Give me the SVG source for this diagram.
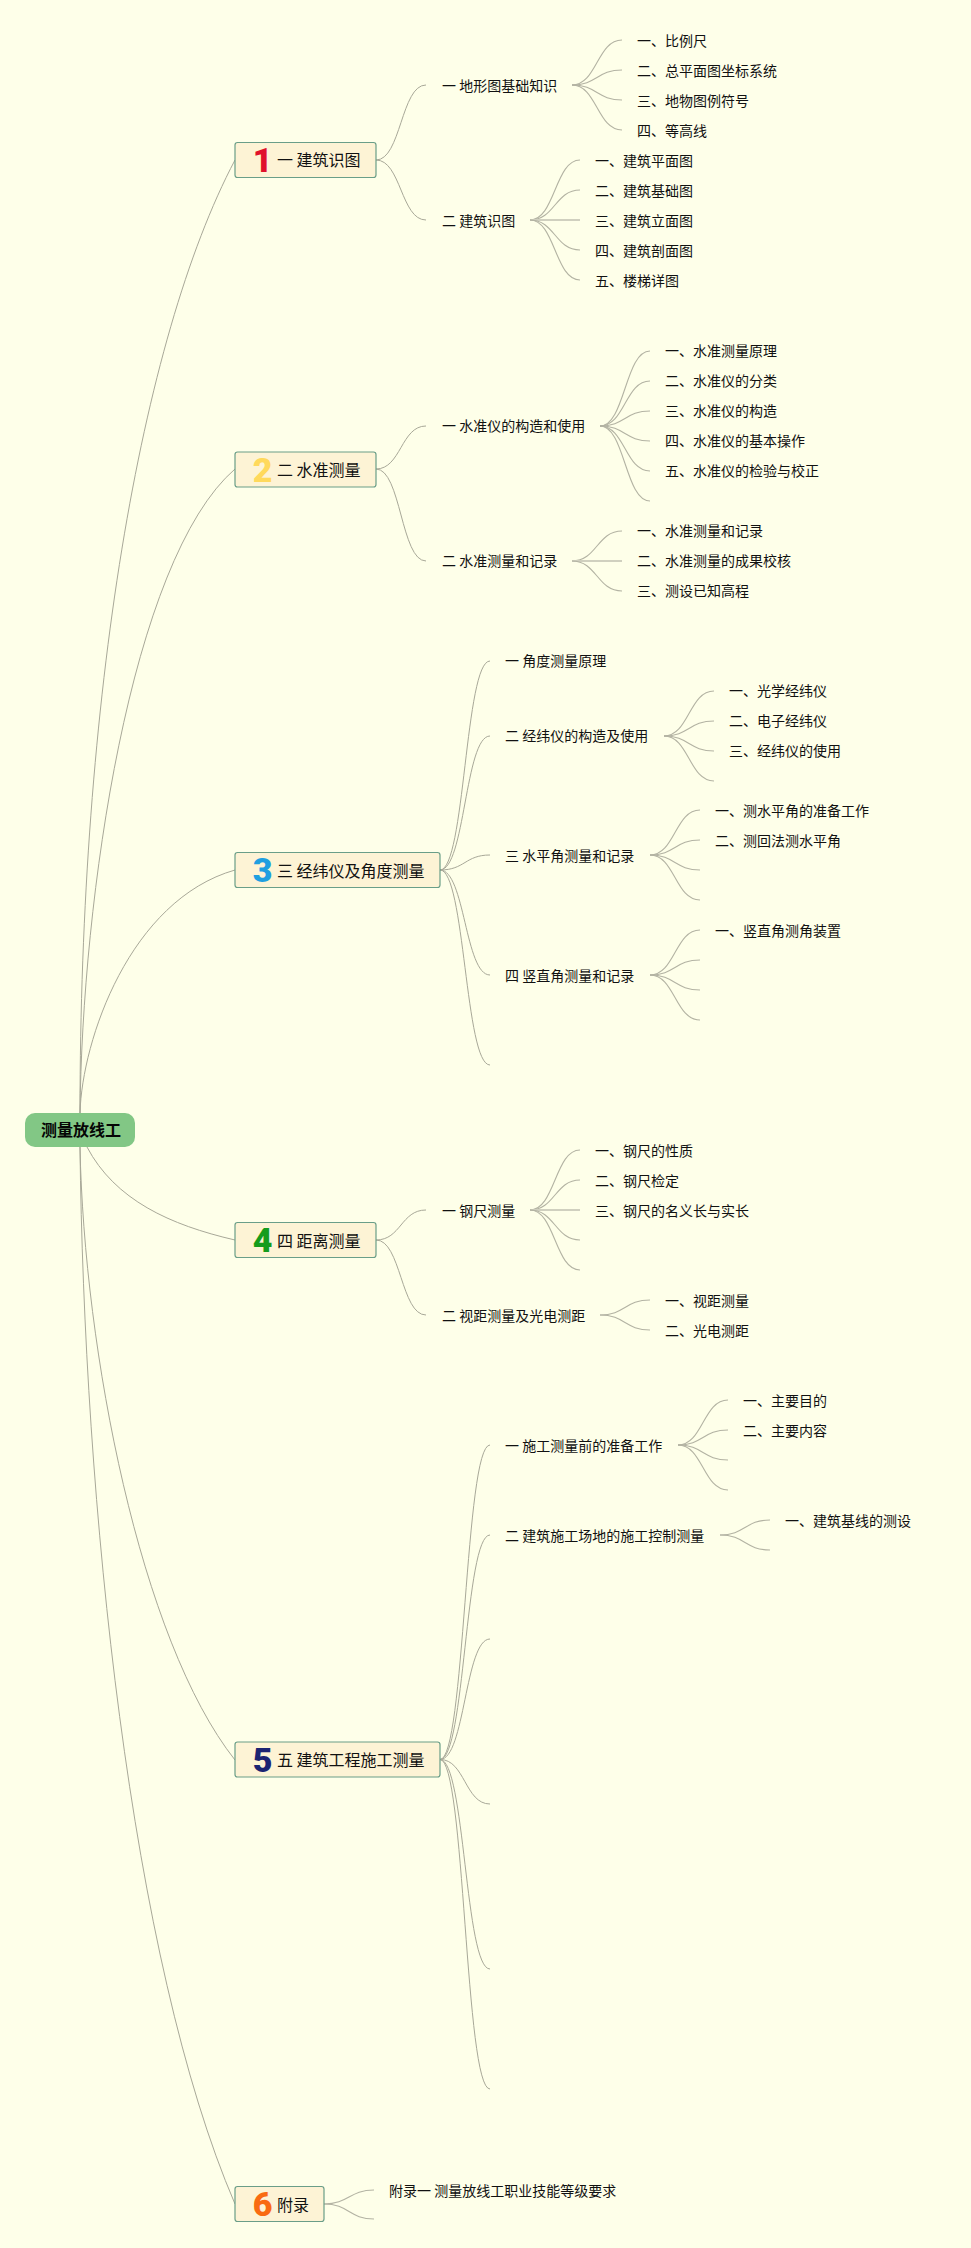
<svg xmlns="http://www.w3.org/2000/svg" width="971" height="2248" viewBox="0 0 971 2248">
<style>
text{font-family:"Noto Sans CJK SC","Liberation Sans",sans-serif;fill:#111}
.t{font-size:14px}
.m{font-size:16px}
.r{font-size:16px;font-weight:700;fill:#050505}
.box{fill:#fdf3d5;stroke:#6a9e88;stroke-width:1.2}
.rootbox{fill:#82c785}
.n{font-family:"Roboto","Liberation Sans",sans-serif;font-size:34px;font-weight:900;text-anchor:middle}
#c path{fill:none;stroke:#a8a898;stroke-width:1}
#c .f{stroke:#b3b3a3;stroke-width:1.1}
#c .s{stroke:#d0d0bf;stroke-width:2}
</style>
<rect width="971" height="2248" fill="#feffe9"/>
<g id="c">
<path d="M80,1113C80,700 140,340 235,160"/>
<path d="M80,1113C82,900 130,560 235,469"/>
<path d="M80,1113C82,1040 130,900 235,870"/>
<path d="M87,1147C115,1200 170,1225 235,1240"/>
<path d="M80,1147C84,1350 140,1640 235,1760"/>
<path d="M80,1147C84,1500 130,1960 235,2204"/>
<path d="M376,160C401,160 401,85 426,85"/><path d="M376,160C401,160 401,220 426,220"/>
<path d="M376,469C401,469 401,426 426,426"/><path d="M376,469C401,469 401,561 426,561"/>
<path d="M440,870C465,870 465,661 490,661"/><path d="M440,870C465,870 465,736 490,736"/><path d="M440,870C465,870 465,855 490,855"/><path d="M440,870C465,870 465,975 490,975"/><path d="M440,870C465,870 465,1065 490,1065"/>
<path d="M376,1240C401,1240 401,1210 426,1210"/><path d="M376,1240C401,1240 401,1315 426,1315"/>
<path d="M440,1759.500C465,1759.500 465,1445 490,1445"/><path d="M440,1759.500C465,1759.500 465,1535 490,1535"/><path d="M440,1759.500C465,1759.500 465,1639 490,1639"/><path d="M440,1759.500C465,1759.500 465,1804 490,1804"/><path d="M440,1759.500C465,1759.500 465,1969 490,1969"/><path d="M440,1759.500C465,1759.500 465,2089 490,2089"/>
<path class="f" d="M324,2204C349,2204 349,2190 374,2190"/><path class="f" d="M324,2204C349,2204 349,2219 374,2219"/>
<path class="f" d="M572,85C597,85 597,40 622,40"/><path class="f" d="M572,85C597,85 597,70 622,70"/><path class="f" d="M572,85C597,85 597,100 622,100"/><path class="f" d="M572,85C597,85 597,130 622,130"/>
<path class="f" d="M530,220C555,220 555,160 580,160"/><path class="f" d="M530,220C555,220 555,190 580,190"/><path class="s" d="M530,220L580,220"/><path class="f" d="M530,220C555,220 555,250 580,250"/><path class="f" d="M530,220C555,220 555,280 580,280"/>
<path class="f" d="M600,426C625,426 625,351 650,351"/><path class="f" d="M600,426C625,426 625,381 650,381"/><path class="f" d="M600,426C625,426 625,411 650,411"/><path class="f" d="M600,426C625,426 625,441 650,441"/><path class="f" d="M600,426C625,426 625,471 650,471"/><path class="f" d="M600,426C625,426 625,501 650,501"/>
<path class="f" d="M572,561C597,561 597,531 622,531"/><path class="s" d="M572,561L622,561"/><path class="f" d="M572,561C597,561 597,591 622,591"/>
<path class="f" d="M664,736C689,736 689,691 714,691"/><path class="f" d="M664,736C689,736 689,721 714,721"/><path class="f" d="M664,736C689,736 689,751 714,751"/><path class="f" d="M664,736C689,736 689,781 714,781"/>
<path class="f" d="M650,855C675,855 675,810 700,810"/><path class="f" d="M650,855C675,855 675,840 700,840"/><path class="f" d="M650,855C675,855 675,870 700,870"/><path class="f" d="M650,855C675,855 675,900 700,900"/>
<path class="f" d="M650,975C675,975 675,930 700,930"/><path class="f" d="M650,975C675,975 675,960 700,960"/><path class="f" d="M650,975C675,975 675,990 700,990"/><path class="f" d="M650,975C675,975 675,1020 700,1020"/>
<path class="f" d="M530,1210C555,1210 555,1150 580,1150"/><path class="f" d="M530,1210C555,1210 555,1180 580,1180"/><path class="s" d="M530,1210L580,1210"/><path class="f" d="M530,1210C555,1210 555,1240 580,1240"/><path class="f" d="M530,1210C555,1210 555,1270 580,1270"/>
<path class="f" d="M600,1315C625,1315 625,1300 650,1300"/><path class="f" d="M600,1315C625,1315 625,1330 650,1330"/>
<path class="f" d="M678,1445C703,1445 703,1400 728,1400"/><path class="f" d="M678,1445C703,1445 703,1430 728,1430"/><path class="f" d="M678,1445C703,1445 703,1460 728,1460"/><path class="f" d="M678,1445C703,1445 703,1490 728,1490"/>
<path class="f" d="M720,1535C745,1535 745,1520 770,1520"/><path class="f" d="M720,1535C745,1535 745,1550 770,1550"/>
</g>
<g id="root"><rect class="rootbox" x="25" y="1113" width="110" height="34" rx="10"/><text class="r" x="41" y="1136">测量放线工</text></g>
<g id="n1"><rect class="box" x="235" y="142.500" width="141" height="35" rx="2.500"/><text class="n" x="262.500" y="172" style="fill:#e0112b">1</text><text class="m" x="277" y="166">一 建筑识图</text></g>
<g id="n2"><rect class="box" x="235" y="452" width="141" height="35" rx="2.500"/><text class="n" x="262.500" y="481.500" style="fill:#ffd95c">2</text><text class="m" x="277" y="476">二 水准测量</text></g>
<g id="n3"><rect class="box" x="235" y="852.500" width="205" height="35" rx="2.500"/><text class="n" x="262.500" y="882" style="fill:#1f9fe0">3</text><text class="m" x="277" y="877">三 经纬仪及角度测量</text></g>
<g id="n4"><rect class="box" x="235" y="1222.500" width="141" height="35" rx="2.500"/><text class="n" x="262.500" y="1252" style="fill:#159c1d">4</text><text class="m" x="277" y="1247">四 距离测量</text></g>
<g id="n5"><rect class="box" x="235" y="1742" width="205" height="35" rx="2.500"/><text class="n" x="262.500" y="1771.500" style="fill:#1c2472">5</text><text class="m" x="277" y="1766">五 建筑工程施工测量</text></g>
<g id="n6"><rect class="box" x="235" y="2186.500" width="89" height="35" rx="2.500"/><text class="n" x="262.500" y="2216" style="fill:#f96b12">6</text><text class="m" x="277" y="2210.500">附录</text></g>
<g id="labels">
<text class="t" x="442" y="91">一 地形图基础知识</text>
<text class="t" x="442" y="226">二 建筑识图</text>
<text class="t" x="637" y="46">一、比例尺</text><text class="t" x="637" y="76">二、总平面图坐标系统</text><text class="t" x="637" y="106">三、地物图例符号</text><text class="t" x="637" y="136">四、等高线</text>
<text class="t" x="595" y="166">一、建筑平面图</text><text class="t" x="595" y="196">二、建筑基础图</text><text class="t" x="595" y="226">三、建筑立面图</text><text class="t" x="595" y="256">四、建筑剖面图</text><text class="t" x="595" y="286">五、楼梯详图</text>
<text class="t" x="442" y="431">一 水准仪的构造和使用</text><text class="t" x="442" y="566">二 水准测量和记录</text>
<text class="t" x="665" y="356">一、水准测量原理</text><text class="t" x="665" y="386">二、水准仪的分类</text><text class="t" x="665" y="416">三、水准仪的构造</text><text class="t" x="665" y="446">四、水准仪的基本操作</text><text class="t" x="665" y="476">五、水准仪的检验与校正</text>
<text class="t" x="637" y="536">一、水准测量和记录</text><text class="t" x="637" y="566">二、水准测量的成果校核</text><text class="t" x="637" y="596">三、测设已知高程</text>
<text class="t" x="505" y="666">一 角度测量原理</text><text class="t" x="505" y="741">二 经纬仪的构造及使用</text><text class="t" x="505" y="861">三 水平角测量和记录</text><text class="t" x="505" y="981">四 竖直角测量和记录</text>
<text class="t" x="729" y="696">一、光学经纬仪</text><text class="t" x="729" y="726">二、电子经纬仪</text><text class="t" x="729" y="756">三、经纬仪的使用</text>
<text class="t" x="715" y="816">一、测水平角的准备工作</text><text class="t" x="715" y="846">二、测回法测水平角</text>
<text class="t" x="715" y="936">一、竖直角测角装置</text>
<text class="t" x="442" y="1216">一 钢尺测量</text><text class="t" x="442" y="1321">二 视距测量及光电测距</text>
<text class="t" x="595" y="1156">一、钢尺的性质</text><text class="t" x="595" y="1186">二、钢尺检定</text><text class="t" x="595" y="1216">三、钢尺的名义长与实长</text>
<text class="t" x="665" y="1306">一、视距测量</text><text class="t" x="665" y="1336">二、光电测距</text>
<text class="t" x="505" y="1451">一 施工测量前的准备工作</text><text class="t" x="505" y="1541">二 建筑施工场地的施工控制测量</text>
<text class="t" x="743" y="1406">一、主要目的</text><text class="t" x="743" y="1436">二、主要内容</text>
<text class="t" x="785" y="1526">一、建筑基线的测设</text>
<text class="t" x="389" y="2196">附录一 测量放线工职业技能等级要求</text>
</g>
</svg>
